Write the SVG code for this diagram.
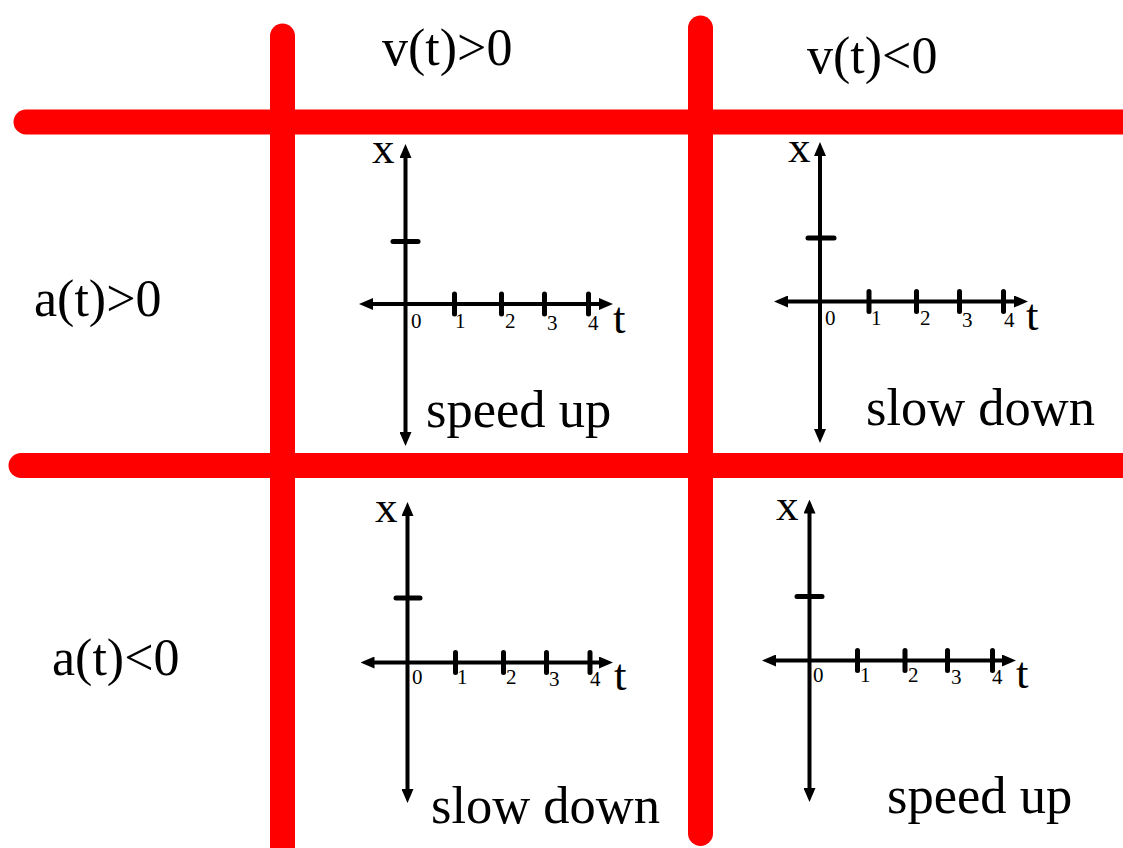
<svg xmlns="http://www.w3.org/2000/svg" width="1123" height="848" viewBox="0 0 1123 848">
<defs>
<marker id="ah" markerUnits="userSpaceOnUse" markerWidth="14" markerHeight="12" refX="6" refY="6" orient="auto-start-reverse" viewBox="0 0 14 12">
<path d="M0,0 L14,6 L0,12 Z" fill="#000"/>
</marker>
<style>
.red{stroke:#FF0000;stroke-width:25;stroke-linecap:round;fill:none}
.ax{stroke:#000;stroke-width:4;fill:none;marker-start:url(#ah);marker-end:url(#ah)}
.tk{stroke:#000;stroke-width:5;stroke-linecap:round;fill:none}
text{font-family:"Liberation Serif","Times New Roman",serif;fill:#000}
.hd{font-size:52px}
.ax-l{font-size:45px}
.num{font-size:21px}
.cap{font-size:52.5px}
</style>
</defs>
<rect width="1123" height="848" fill="#fff"/>
<g id="grid">
<line class="red" x1="26" y1="122" x2="1140" y2="122"/>
<line class="red" x1="21" y1="465.5" x2="1140" y2="465.5"/>
<line class="red" x1="282.5" y1="36" x2="282.5" y2="870"/>
<line class="red" x1="700.5" y1="28" x2="700.5" y2="833.5"/>
</g>
<g id="headers">
<text class="hd" x="382" y="65">v(t)&gt;0</text>
<text class="hd" x="807" y="73">v(t)&lt;0</text>
<text class="hd" x="34" y="316">a(t)&gt;0</text>
<text class="hd" x="52" y="675">a(t)&lt;0</text>
</g>
<g id="graph1">
<line class="ax" x1="405.5" y1="152" x2="405.5" y2="438"/>
<line class="ax" x1="367" y1="304" x2="605" y2="304"/>
<line class="tk" x1="393" y1="241.5" x2="418" y2="241.5"/>
<line class="tk" x1="454.5" y1="294" x2="454.5" y2="314"/>
<line class="tk" x1="501.5" y1="294" x2="501.5" y2="314"/>
<line class="tk" x1="544.5" y1="294" x2="544.5" y2="314"/>
<line class="tk" x1="588.5" y1="294" x2="588.5" y2="314"/>
<text class="ax-l" x="372" y="163">x</text>
<text class="ax-l" x="613" y="333">t</text>
<text class="num" x="411" y="328">0</text>
<text class="num" x="455" y="328">1</text>
<text class="num" x="505" y="328">2</text>
<text class="num" x="547" y="330">3</text>
<text class="num" x="588" y="330">4</text>
<text class="cap" x="426" y="427">speed up</text>
</g>
<g id="graph2">
<line class="ax" x1="820" y1="150" x2="820" y2="435"/>
<line class="ax" x1="782" y1="301.5" x2="1020" y2="301.5"/>
<line class="tk" x1="808" y1="238" x2="834" y2="238"/>
<line class="tk" x1="869" y1="291.5" x2="869" y2="311.5"/>
<line class="tk" x1="916.5" y1="291.5" x2="916.5" y2="311.5"/>
<line class="tk" x1="959.5" y1="291.5" x2="959.5" y2="311.5"/>
<line class="tk" x1="1003.5" y1="291.5" x2="1003.5" y2="311.5"/>
<text class="ax-l" x="788" y="162">x</text>
<text class="ax-l" x="1026" y="330">t</text>
<text class="num" x="825" y="325">0</text>
<text class="num" x="871" y="325">1</text>
<text class="num" x="920" y="325">2</text>
<text class="num" x="962" y="327">3</text>
<text class="num" x="1004" y="327">4</text>
<text class="cap" x="866" y="425">slow down</text>
</g>
<g id="graph3">
<line class="ax" x1="407.5" y1="510" x2="407.5" y2="795"/>
<line class="ax" x1="368.5" y1="662.5" x2="605" y2="662.5"/>
<line class="tk" x1="396" y1="598" x2="420" y2="598"/>
<line class="tk" x1="455.5" y1="652.5" x2="455.5" y2="672.5"/>
<line class="tk" x1="503.5" y1="652.5" x2="503.5" y2="672.5"/>
<line class="tk" x1="546.5" y1="652.5" x2="546.5" y2="672.5"/>
<line class="tk" x1="590" y1="652.5" x2="590" y2="672.5"/>
<text class="ax-l" x="375" y="522">x</text>
<text class="ax-l" x="614" y="690">t</text>
<text class="num" x="412" y="684">0</text>
<text class="num" x="457" y="684">1</text>
<text class="num" x="506" y="684">2</text>
<text class="num" x="549" y="686">3</text>
<text class="num" x="590" y="686">4</text>
<text class="cap" x="431" y="823">slow down</text>
</g>
<g id="graph4">
<line class="ax" x1="809.5" y1="507.5" x2="809.5" y2="794"/>
<line class="ax" x1="770" y1="660.5" x2="1008" y2="660.5"/>
<line class="tk" x1="797" y1="596.5" x2="822" y2="596.5"/>
<line class="tk" x1="857.5" y1="650.5" x2="857.5" y2="670.5"/>
<line class="tk" x1="905" y1="650.5" x2="905" y2="670.5"/>
<line class="tk" x1="947.5" y1="650.5" x2="947.5" y2="670.5"/>
<line class="tk" x1="992.5" y1="650.5" x2="992.5" y2="670.5"/>
<text class="ax-l" x="776" y="520">x</text>
<text class="ax-l" x="1016" y="688">t</text>
<text class="num" x="813" y="682">0</text>
<text class="num" x="860" y="682">1</text>
<text class="num" x="908" y="682">2</text>
<text class="num" x="951" y="684">3</text>
<text class="num" x="992" y="684">4</text>
<text class="cap" x="887" y="813">speed up</text>
</g>
</svg>
